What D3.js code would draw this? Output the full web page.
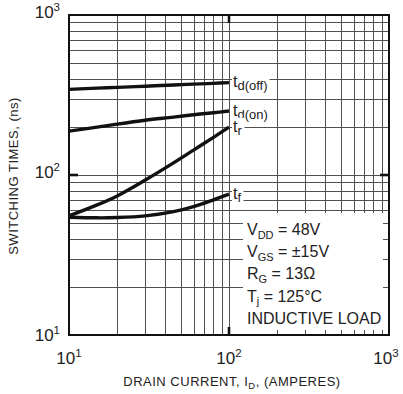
<!DOCTYPE html>
<html>
<head>
<meta charset="utf-8">
<script src="https://cdn.jsdelivr.net/npm/d3@7"></script>
<style>
  html, body { margin: 0; padding: 0; background: #fff; }
  svg { display: block; font-family: "Liberation Sans", Arial, Helvetica, sans-serif; }
</style>
</head>
<body>
<svg id="chart" width="403" height="394"></svg>
<script>
// Drain current sample points (A)
const drainCurrent = [10, 15, 20, 30, 45, 60, 80, 100];
// Switching times (ns) per curve
const tdOff = [343, 349, 353, 359, 365, 370, 374, 378];
const tdOn  = [188, 199, 208, 220, 230, 238, 245, 251];
const tRise = [55.5, 65, 74, 93, 119, 143, 172, 199];
const tFall = [54.5, 54, 54.2, 55.5, 59, 63.5, 70, 76];

const seriesNames = ["d(off)", "d(on)", "r", "f"];
const seriesValues = [tdOff, tdOn, tRise, tFall];

// Axis ticks
const majorTicks = [10, 100, 1000];
const majorExponents = ["1", "2", "3"];
const minorTicks = [20, 30, 40, 50, 60, 70, 80, 90, 200, 300, 400, 500, 600, 700, 800, 900];
const boxTicksY = [20, 30, 40, 50];
const boxTicksX = [200, 300, 400, 500, 600, 700, 800, 900];

// Test conditions
const conditions = [
  [["V", false], ["DD", true], [" = 48V", false]],
  [["V", false], ["GS", true], [" = \u00B115V", false]],
  [["R", false], ["G", true], [" = 13\u03A9", false]],
  [["T", false], ["j", true], [" = 125\u00B0C", false]],
  [["INDUCTIVE LOAD", false]]
];

const L = 69, T = 15, W = 320, H = 320;
const svg = d3.select("#chart");
const x = d3.scaleLog().domain([10, 1000]).range([L, L + W]);
const y = d3.scaleLog().domain([10, 1000]).range([T + H, T]);

const gridColor = "#505050";
const grid = svg.append("g").attr("stroke", gridColor).attr("stroke-width", 1);

// vertical grid
grid.selectAll("line.v").data(minorTicks.concat([100])).join("line")
  .attr("x1", d => Math.round(x(d)) + 0.5).attr("x2", d => Math.round(x(d)) + 0.5)
  .attr("y1", T).attr("y2", T + H);
// horizontal grid
grid.selectAll("line.h").data(minorTicks.concat([100])).join("line")
  .attr("y1", d => Math.round(y(d)) + 0.5).attr("y2", d => Math.round(y(d)) + 0.5)
  .attr("x1", L).attr("x2", L + W);

// conditions box (white panel over the lower-right grid)
const boxX = 243, boxY = 213;
svg.append("rect").attr("x", boxX).attr("y", boxY)
  .attr("width", L + W - boxX).attr("height", T + H - boxY).attr("fill", "#fff");

// short ticks inside the panel
const bt = svg.append("g").attr("stroke", gridColor).attr("stroke-width", 1);
bt.selectAll("line.bx").data(boxTicksX).join("line")
  .attr("x1", d => Math.round(x(d)) + 0.5).attr("x2", d => Math.round(x(d)) + 0.5)
  .attr("y1", T + H).attr("y2", T + H - 5);
bt.selectAll("line.by").data(boxTicksY).join("line")
  .attr("y1", d => Math.round(y(d)) + 0.5).attr("y2", d => Math.round(y(d)) + 0.5)
  .attr("x1", L + W).attr("x2", L + W - 6);

// curves
const line = d3.line()
  .x(d => x(d[0])).y(d => y(d[1]))
  .curve(d3.curveCatmullRom.alpha(0.5));
svg.append("g").selectAll("path").data(seriesValues).join("path")
  .attr("d", vals => line(vals.map((v, i) => [drainCurrent[i], v])))
  .attr("fill", "none").attr("stroke", "#111").attr("stroke-width", 3.4)
  .attr("stroke-linecap", "butt");

// curve labels with white backing
const lastI = drainCurrent.length - 1;
const labels = svg.append("g");
seriesValues.forEach((vals, k) => {
  const yEnd = y(vals[lastI]);
  const g = labels.append("g");
  const bg = g.append("rect").attr("fill", "#fff");
  const t = g.append("text").attr("x", x(drainCurrent[lastI]) + 4).attr("y", yEnd + 4.5)
    .attr("font-size", 16).attr("fill", "#222");
  t.append("tspan").text("t");
  t.append("tspan").attr("font-size", 13).attr("dy", 3).text(seriesNames[k]);
  const b = t.node().getBBox();
  bg.attr("x", b.x - 1).attr("y", b.y).attr("width", b.width + 3).attr("height", b.height);
});

// major ticks (heavy, inward)
const mt = svg.append("g").attr("stroke", "#111").attr("stroke-width", 2.6);
mt.append("line").attr("x1", x(100)).attr("x2", x(100)).attr("y1", T).attr("y2", T + 8);
mt.append("line").attr("x1", x(100)).attr("x2", x(100)).attr("y1", T + H).attr("y2", T + H - 8);
mt.append("line").attr("y1", y(100)).attr("y2", y(100)).attr("x1", L).attr("x2", L + 9);
mt.append("line").attr("y1", y(100)).attr("y2", y(100)).attr("x1", L + W).attr("x2", L + W - 9);

// frame
svg.append("rect").attr("x", L).attr("y", T).attr("width", W).attr("height", H)
  .attr("fill", "none").attr("stroke", "#111").attr("stroke-width", 2);

// tick labels
function powerLabel(sel, exp) {
  sel.append("tspan").text("10");
  sel.append("tspan").attr("font-size", 11.5).attr("dy", -7).text(exp);
}
const xt = svg.append("g").attr("font-size", 17).attr("fill", "#222");
majorTicks.forEach((v, i) => {
  const t = xt.append("text").attr("x", x(v) + (i === 2 ? -3 : 0)).attr("y", 364)
    .attr("text-anchor", "middle");
  powerLabel(t, majorExponents[i]);
});
const yt = svg.append("g").attr("font-size", 17).attr("fill", "#222");
majorTicks.forEach((v, i) => {
  const t = yt.append("text").attr("x", 60).attr("y", y(v) + (i === 0 ? 5.5 : 3))
    .attr("text-anchor", "end");
  powerLabel(t, majorExponents[i]);
});

// axis titles
const xTitle = svg.append("text").attr("x", 232).attr("y", 386)
  .attr("text-anchor", "middle").attr("font-size", 13).attr("letter-spacing", 0.5)
  .attr("fill", "#222");
xTitle.append("tspan").text("DRAIN CURRENT, I");
xTitle.append("tspan").attr("font-size", 9.5).attr("dy", 3).text("D");
xTitle.append("tspan").attr("dy", -3).text(", (AMPERES)");

svg.append("text")
  .attr("transform", "translate(18,176) rotate(-90)")
  .attr("text-anchor", "middle").attr("font-size", 13).attr("letter-spacing", 0.5)
  .attr("fill", "#222")
  .text("SWITCHING TIMES, (ns)");

// test conditions text
const cond = svg.append("g").attr("font-size", 16).attr("fill", "#222");
conditions.forEach((parts, r) => {
  const t = cond.append("text").attr("x", 247).attr("y", 235 + r * 22.2);
  parts.forEach(([s, sub]) => {
    const sp = t.append("tspan").text(s);
    if (sub) sp.attr("font-size", 11).attr("dy", 3.5);
    else if (t.selectAll("tspan").size() > 1) sp.attr("dy", -3.5);
  });
});
</script>
</body>
</html>
